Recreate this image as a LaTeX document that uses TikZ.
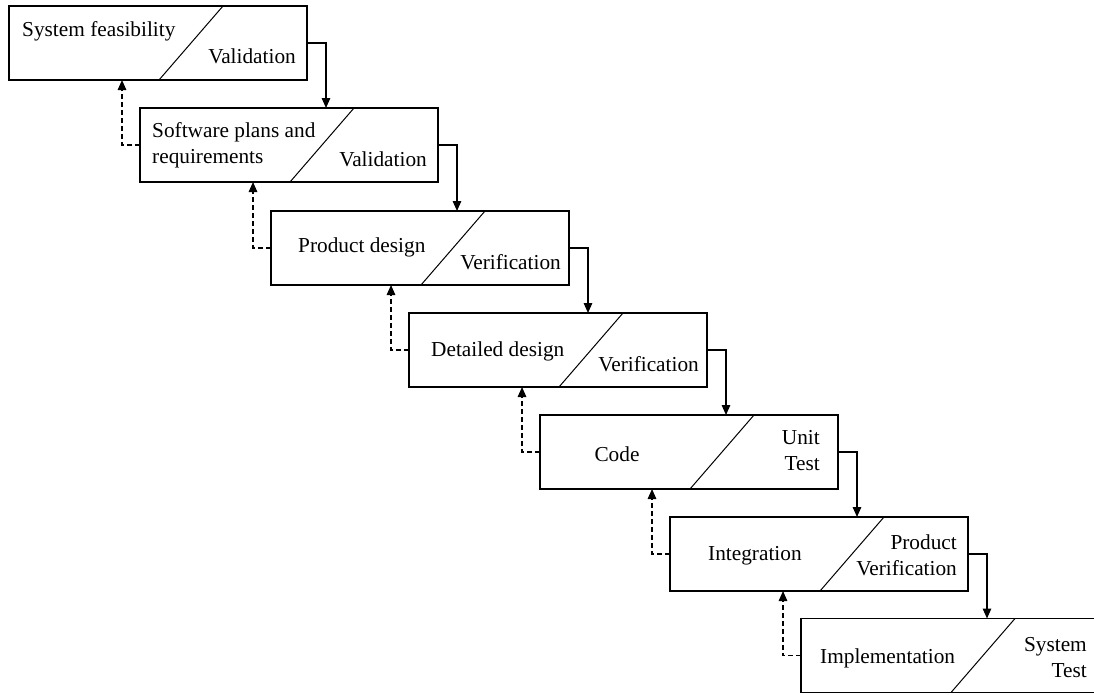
\documentclass[tikz,border=0pt]{standalone}
\usepackage{fontspec}
\setmainfont{Liberation Serif}
\usetikzlibrary{arrows.meta,calc}
\begin{document}
\begin{tikzpicture}[x=1pt,y=-1pt,
  stagebox/.style={draw, line width=1.5pt, minimum width=298pt, minimum height=74pt, inner sep=0pt, outer sep=0pt},
  diag/.style={line width=1pt},
  lbl/.style={inner sep=0pt, font=\fontsize{21.3pt}{26pt}\selectfont},
  fwd/.style={line width=1.4pt, -{Triangle[length=10pt,width=8.5pt]}},
  back/.style={line width=1.4pt, dash pattern=on 5pt off 3pt, -{Triangle[length=10pt,width=8.5pt]}}]
\useasboundingbox (0,0) rectangle (1094,694);

% boxes (centre = left+149, top+37)
\node[stagebox] (b1) at (158,43) {};
\node[stagebox] (b2) at (289,145) {};
\node[stagebox] (b3) at (420,248) {};
\node[stagebox] (b4) at (558,350) {};
\node[stagebox] (b5) at (689,452) {};
\node[stagebox] (b6) at (819,554) {};
\node[stagebox] (b7) at (950,655.5) {};

% diagonals
\foreach \b in {b1,b2,b3,b4,b5,b6,b7}{
  \draw[diag] ($(\b.north west)+(214,0)$) -- ($(\b.south west)+(150,0)$);
}

% texts
\node[lbl, anchor=west] (t1a) at (22,31) {System feasibility};
\node[lbl, anchor=east] (t1b) at (296,56.5) {Validation};
\node[lbl, anchor=west, align=left] (t2a) at (152,145) {Software plans and\\requirements};
\node[lbl, anchor=east] (t2b) at (427,159.5) {Validation};
\node[lbl, anchor=west] (t3a) at (298,247) {Product design};
\node[lbl, anchor=east] (t3b) at (561,262.5) {Verification};
\node[lbl, anchor=west] (t4a) at (431,351) {Detailed design};
\node[lbl, anchor=east] (t4b) at (699,364.5) {Verification};
\node[lbl] (t5a) at (617,454.5) {Code};
\node[lbl, anchor=east, align=right] (t5b) at (820,451) {Unit\\Test};
\node[lbl, anchor=west] (t6a) at (708,556) {Integration};
\node[lbl, anchor=east, align=right] (t6b) at (957,555.5) {Product\\Verification};
\node[lbl, anchor=west] (t7a) at (820,658) {Implementation};
\node[lbl, anchor=east, align=right] (t7b) at (1087,657.5) {System\\Test};

% forward (solid) connectors
\foreach \a/\b in {b1/b2,b2/b3,b3/b4,b4/b5,b5/b6,b6/b7}{
  \coordinate (f\a) at ($(\a.east)+(19,0)$);
  \draw[fwd] (\a.east) -| (f\a |- \b.north);
}
% backward (dashed) connectors
\foreach \a/\b in {b1/b2,b2/b3,b3/b4,b4/b5,b5/b6,b6/b7}{
  \coordinate (r\b) at ($(\b.west)+(-18,0)$);
  \draw[back] (\b.west) -| (r\b |- \a.south);
}
\end{tikzpicture}
\end{document}
